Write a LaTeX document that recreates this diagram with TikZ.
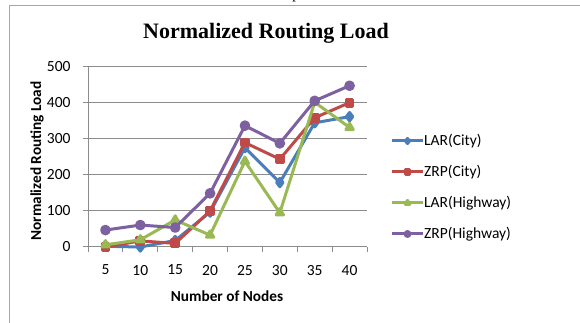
\documentclass[tikz,border=0pt]{standalone}
\usepackage{fontspec}
\setmainfont{Liberation Serif}
\setsansfont{Carlito}
\usetikzlibrary{plotmarks}

\definecolor{larcity}{HTML}{4A7EBB}
\definecolor{zrpcity}{HTML}{BE4B48}
\definecolor{larhwy}{HTML}{98B954}
\definecolor{zrphwy}{HTML}{7D60A0}
\definecolor{gridgray}{HTML}{8C8C8C}
\definecolor{framegray}{HTML}{A6A6A6}

\begin{document}
\begin{tikzpicture}[x=1pt,y=1pt,
    series/.style={line width=3pt, line join=round, mark size=3.8pt, mark options={solid}},
    gridline/.style={draw=gridgray, line width=1pt},
    tick/.style={font=\sffamily\fontsize{15.5}{16}\selectfont},
    axislabel/.style={font=\sffamily\bfseries\fontsize{15.3}{16}\selectfont},
    legendtext/.style={font=\sffamily\fontsize{15.5}{16}\selectfont, anchor=west, inner sep=1pt}]
  \useasboundingbox (0,0) rectangle (580,323);
  % frame of the chart
  \draw[draw=framegray, line width=1pt] (9,0) -- (9,317) -- (580,317);
  \node[anchor=base, font=\fontsize{16}{16}\selectfont] (cut) at (296,324) {p};
  \node[font=\bfseries\fontsize{22}{22}\selectfont] (title) at (266,290) {Normalized Routing Load};

  \begin{scope}[shift={(88,76)}, x=34.875pt, y=0.36pt]
    % grid and axes
    \foreach \v in {0,100,...,500}
      \draw[gridline] (-0.15,\v) -- (8,\v);
    \draw[gridline] (0,0) -- (0,500);
    \foreach \k in {0,...,8}
      \draw[gridline] (\k,0) -- (\k,-14);
    \foreach \v in {0,100,...,500}
      \node[tick, anchor=east] (y\v) at (-0.4,\v) {\v};
    \foreach \n [count=\i] in {5,10,...,40}
      \node[tick] (x\n) at (\i-0.5,-64) {\n};
    % data
    \draw[series, larcity, mark=diamond*, mark size=4.2pt] plot coordinates
      {(0.5,2) (1.5,0) (2.5,18) (3.5,97) (4.5,276) (5.5,179) (6.5,345) (7.5,362)};
    \draw[series, zrpcity, mark=square*, mark size=3.4pt] plot coordinates
      {(0.5,0) (1.5,17) (2.5,10) (3.5,100) (4.5,290) (5.5,244) (6.5,359) (7.5,401)};
    \draw[series, larhwy, mark=triangle*, mark size=4.2pt] plot coordinates
      {(0.5,6) (1.5,20) (2.5,75) (3.5,33) (4.5,238) (5.5,95) (6.5,402) (7.5,332)};
    \draw[series, zrphwy, mark=*] plot coordinates
      {(0.5,47) (1.5,61) (2.5,54) (3.5,149) (4.5,337) (5.5,288) (6.5,406) (7.5,448)};
  \end{scope}

  \node[axislabel] (xlabel) at (227,27) {Number of Nodes};
  \node[axislabel, rotate=90] (ylabel) at (37,162) {Normalized Routing Load};

  % legend
  \draw[series, larcity, mark=diamond*, mark size=2.6pt, mark indices={2}] plot coordinates {(392,182) (407.5,182) (423,182)};
  \node[legendtext] (leg1) at (423,182) {LAR(City)};
  \draw[series, zrpcity, mark=square*, mark size=2.4pt, mark indices={2}] plot coordinates {(392,151) (407.5,151) (423,151)};
  \node[legendtext] (leg2) at (423,151) {ZRP(City)};
  \draw[series, larhwy, mark=triangle*, mark size=2.6pt, mark indices={2}] plot coordinates {(392,120) (407.5,120) (423,120)};
  \node[legendtext] (leg3) at (423,120) {LAR(Highway)};
  \draw[series, zrphwy, mark=*, mark size=2.4pt, mark indices={2}] plot coordinates {(392,89) (407.5,89) (423,89)};
  \node[legendtext] (leg4) at (423,89) {ZRP(Highway)};
\end{tikzpicture}
\end{document}
